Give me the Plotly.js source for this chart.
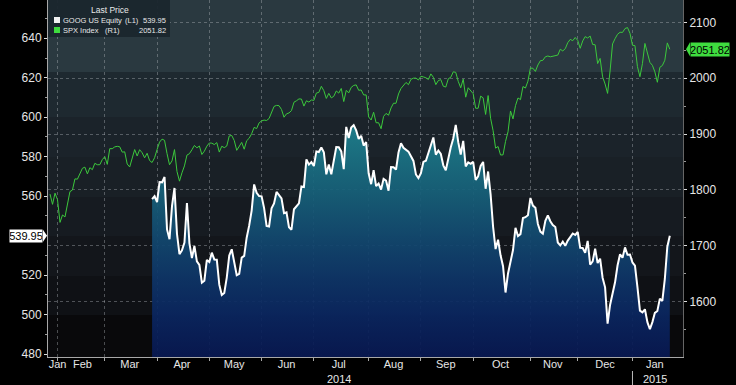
<!DOCTYPE html>
<html><head><meta charset="utf-8">
<script src="https://cdn.plot.ly/plotly-3.0.1.min.js"></script>
<style>html,body{margin:0;padding:0;background:#000;}#chart{width:736px;height:385px;}</style>
</head><body><div id="chart"></div>
<script>
// ---------- DATA ----------
const holidays = ['2014-02-17','2014-04-18','2014-05-26','2014-07-04','2014-09-01','2014-11-27','2014-12-25','2015-01-01','2015-01-19'];
const spxFirstDay = '2014-01-28';
const googFirstDay = '2014-03-27';
const lastDay = '2015-01-23';

const spxClose = [
  1792.50,1774.20,1794.19,1782.59,
  1741.89,1755.20,1751.64,1773.43,1797.02,1799.84,1819.75,1819.26,1829.83,1838.63,1840.76,1828.75,1839.78,1836.25,1847.61,1845.12,1845.16,1854.29,1859.45,
  1845.73,1873.91,1873.81,1877.03,1878.04,1877.17,1867.63,1868.20,1846.34,1841.13,1858.83,1872.25,1860.77,1872.01,1866.52,1857.44,1865.62,1852.56,1849.04,1857.62,1872.34,
  1885.52,1890.90,1888.77,1865.09,1845.04,1851.96,1872.18,1833.08,1815.69,1830.61,1842.98,1862.31,1864.85,1871.89,1879.55,1875.39,1878.61,1863.40,1869.43,1878.33,1883.95,
  1883.68,1881.14,1884.66,1867.72,1878.21,1875.63,1878.48,1896.65,1897.45,1888.53,1870.85,1877.86,1885.08,1872.83,1888.03,1892.49,1900.53,1911.91,1909.78,1920.03,1923.57,
  1924.97,1924.24,1927.88,1940.46,1949.44,1951.27,1950.79,1943.89,1930.11,1936.16,1937.78,1941.99,1956.98,1959.48,1962.87,1962.61,1949.98,1959.53,1957.22,1960.96,1960.23,
  1973.32,1974.62,1985.44,1977.65,1963.71,1972.83,1964.68,1967.57,1977.10,1973.28,1981.57,1958.12,1978.22,1973.63,1983.53,1987.01,1987.98,1978.34,1978.91,1969.95,1970.07,1930.67,
  1925.15,1938.99,1920.21,1920.24,1909.57,1931.59,1936.92,1933.75,1946.72,1955.18,1955.06,1971.74,1981.60,1986.51,1992.37,1988.40,1997.92,2000.02,2000.12,1996.74,2003.37,
  2002.28,2000.72,1997.65,2007.71,2001.54,1988.44,1995.69,1997.45,1985.54,1984.13,1998.98,2001.57,2011.36,2010.40,1994.29,1982.77,1998.30,1965.99,1982.85,1977.80,1972.29,
  1946.16,1946.17,1967.90,1964.82,1935.10,1968.89,1928.21,1906.13,1874.74,1877.70,1862.49,1862.76,1886.76,1904.01,1941.28,1927.11,1950.82,1964.58,1961.63,1985.05,1982.30,1994.65,2018.05,
  2017.81,2012.10,2023.57,2031.21,2031.92,2038.26,2039.68,2038.25,2039.33,2039.82,2041.32,2051.80,2048.72,2052.75,2063.50,2069.41,2067.03,2072.83,2067.56,
  2053.44,2066.55,2074.33,2071.92,2075.37,2060.31,2059.82,2026.14,2035.33,2002.33,1989.63,1972.74,2012.89,2061.23,2070.65,2078.54,2082.17,2081.88,2088.77,2090.57,2080.35,2058.90,
  2058.20,2020.58,2002.61,2025.90,2062.14,2044.81,2028.26,2023.03,2011.27,1992.67,2019.42,2022.55,2032.12,2063.15,2051.82
];

const googClose = [
  558.46,559.99,556.97,
  567.16,567.00,569.74,543.14,538.15,554.90,564.14,540.95,530.60,532.52,536.44,556.54,536.10,528.62,534.81,526.94,525.16,516.18,517.15,527.70,526.66,
  531.35,527.93,527.81,515.14,509.96,511.00,518.73,529.92,533.09,526.65,519.98,520.63,528.86,529.77,538.94,545.06,552.70,565.95,561.68,560.08,559.89,
  553.93,544.94,544.66,553.90,556.33,562.12,560.55,558.84,551.35,551.76,544.28,543.01,553.37,554.90,556.36,564.95,564.62,578.65,576.00,577.24,575.28,
  582.67,582.34,584.73,582.25,571.09,576.08,571.10,579.18,584.87,584.78,582.66,573.73,595.08,589.47,594.74,595.98,593.35,589.02,590.60,585.61,587.42,571.60,
  566.07,573.15,565.07,566.37,563.36,568.77,567.88,562.73,574.78,574.65,573.48,582.16,586.86,584.49,583.37,582.56,580.20,577.86,571.00,569.20,571.60,
  577.33,577.94,581.98,586.08,589.72,581.01,583.10,581.35,575.62,573.10,579.95,584.77,589.27,596.08,587.37,581.13,587.99,575.06,577.10,576.36,577.36,
  568.27,570.08,575.28,577.35,563.74,572.50,560.88,544.49,533.21,537.94,530.03,524.51,511.17,520.84,526.54,532.71,543.98,539.78,540.77,548.90,549.33,550.31,559.08,
  555.22,554.11,545.92,542.04,541.01,547.49,550.29,547.31,545.38,544.40,536.51,535.03,536.99,534.83,537.50,539.27,541.08,540.37,541.83,
  533.80,533.75,531.32,537.31,525.26,526.98,533.37,526.06,528.34,518.66,513.80,495.39,504.89,511.10,516.35,524.87,530.59,528.77,534.03,530.33,530.42,526.40,
  524.81,513.87,501.96,501.10,502.68,496.17,492.55,496.18,500.87,501.79,508.08,506.90,518.04,534.39,539.95
];

const monthGridDates = ['2014-01-31','2014-02-28','2014-03-31','2014-04-30','2014-05-30','2014-06-30','2014-07-31','2014-08-29','2014-09-30','2014-10-31','2014-11-28','2014-12-31'];
const monthLabelDates = ['2014-01-31','2014-02-14','2014-03-14','2014-04-14','2014-05-14','2014-06-13','2014-07-15','2014-08-14','2014-09-15','2014-10-15','2014-11-13','2014-12-15','2015-01-14'];
const monthLabels = ['Jan','Feb','Mar','Apr','May','Jun','Jul','Aug','Sep','Oct','Nov','Dec','Jan'];
const yearLabels = ['2014', '2015'];
const yearLabelDates = ['2014-07-15', '2015-01-14'];
const yearBoundaryDate = '2014-12-31';
const leftTicks = [480, 500, 520, 540, 560, 580, 600, 620, 640];
const rightTicks = [1600, 1700, 1800, 1900, 2000, 2100];

const googName = 'GOOG US Equity', googCode = '(L1)';
const spxName = 'SPX Index', spxCode = '(R1)';
const legendTitle = 'Last Price';

// ---------- HELPERS ----------
function tradingDays(start, end) {
  const out = [];
  let d = new Date(start + 'T00:00:00Z');
  const e = new Date(end + 'T00:00:00Z');
  while (d <= e) {
    const s = d.toISOString().slice(0, 10);
    const wd = d.getUTCDay();
    if (wd !== 0 && wd !== 6 && !holidays.includes(s)) out.push(s);
    d = new Date(d.getTime() + 86400000);
  }
  return out;
}
const spxDates = tradingDays(spxFirstDay, lastDay);
const googDates = tradingDays(googFirstDay, lastDay);

// layout geometry (pixels)
const W = 736, H = 385, ML = 48, MR = 53, MT = 0, MB = 28;
const PW = W - ML - MR, PH = H - MT - MB;
const px = v => (v - ML) / PW;
const py = v => 1 - (v - MT) / PH;

const FONT = "'Liberation Sans Narrow','Liberation Sans','DejaVu Sans Condensed',sans-serif";
const gridCol = 'rgba(185,190,195,0.38)';
const axisCol = '#a8a8a8';
const spxGreen = '#3cc83c';
const tagGreen = '#3fdc3f';

const lastGoog = googClose[googClose.length - 1];
const lastSpx = spxClose[spxClose.length - 1];
// the last-price tag hides the tick label it sits on
const leftTickShown = leftTicks.filter(v => Math.abs(v - lastGoog) > 6);

const rb = [{bounds: ['sat', 'mon']}, {values: holidays}];
const xRange = ['2014-01-27 04:19', '2015-01-30 07:12'];

// ---------- TRACES ----------
const traces = [
  {
    type: 'scatter', mode: 'lines', x: googDates, y: googClose, xaxis: 'x', yaxis: 'y',
    line: {color: '#ffffff', width: 2},
    fill: 'tozeroy',
    fillgradient: {
      type: 'vertical', start: 478, stop: 600,
      colorscale: [
        [0, 'rgba(8,24,82,0.93)'],
        [0.18, 'rgba(10,38,96,0.93)'],
        [0.34, 'rgba(14,54,104,0.93)'],
        [0.51, 'rgba(18,74,112,0.93)'],
        [0.67, 'rgba(22,94,120,0.93)'],
        [0.84, 'rgba(26,114,132,0.93)'],
        [1, 'rgba(31,134,146,0.93)']
      ]
    },
    name: googName, showlegend: false, hoverinfo: 'skip'
  },
  {
    type: 'scatter', mode: 'lines', x: spxDates, y: spxClose, xaxis: 'x', yaxis: 'y2',
    line: {color: spxGreen, width: 1},
    name: spxName, showlegend: false, hoverinfo: 'skip'
  },
  {
    // carrier for the month-label axis (draws nothing)
    type: 'scatter', mode: 'markers', x: monthLabelDates, y: monthLabelDates.map(() => null),
    xaxis: 'x2', yaxis: 'y', marker: {opacity: 0}, showlegend: false, hoverinfo: 'skip'
  }
];

// ---------- SHAPES ----------
const bandEdges = [0, 72, 117, 157, 197, 236, 276, 315, PH];
const bandColors = ['#2a3940', '#1e2930', '#1b232a', '#192026', '#161b21', '#13161b', '#0f1115', '#09090b'];
const shapes = [];
for (let i = 0; i < bandColors.length; i++) {
  shapes.push({type: 'rect', xref: 'paper', yref: 'paper', layer: 'below',
    x0: 0, x1: 1, y0: py(bandEdges[i + 1]), y1: py(bandEdges[i]),
    fillcolor: bandColors[i], line: {width: 0}});
}
// legend box
shapes.push({type: 'rect', xref: 'paper', yref: 'paper', layer: 'above',
  x0: 0, x1: px(170), y0: py(37), y1: 1, fillcolor: 'rgba(26,38,45,0.95)', line: {width: 0}});
shapes.push({type: 'rect', xref: 'paper', yref: 'paper', layer: 'above',
  x0: px(54), x1: px(60), y0: py(23), y1: py(17), fillcolor: '#f2f2f2', line: {width: 0}});
shapes.push({type: 'rect', xref: 'paper', yref: 'paper', layer: 'above',
  x0: px(54), x1: px(60), y0: py(33), y1: py(27), fillcolor: tagGreen, line: {width: 0}});
// year separator
shapes.push({type: 'line', xref: 'x', yref: 'paper', x0: yearBoundaryDate, x1: yearBoundaryDate,
  y0: py(371), y1: py(386), line: {color: '#bbbbbb', width: 1}});
// price-tag pointers
shapes.push({type: 'path', xref: 'paper', yref: 'y', xsizemode: 'pixel', ysizemode: 'pixel',
  xanchor: px(43), yanchor: lastGoog, path: 'M0,-6 L4,0 L0,6 Z',
  fillcolor: '#ffffff', line: {width: 0}});
shapes.push({type: 'path', xref: 'paper', yref: 'y2', xsizemode: 'pixel', ysizemode: 'pixel',
  xanchor: px(690), yanchor: lastSpx, path: 'M0,-7 L-4,0 L0,7 Z',
  fillcolor: tagGreen, line: {width: 0}});

// ---------- ANNOTATIONS ----------
const legFont = {family: FONT, size: 7.5, color: '#e8e8e8'};
const tickFont = {family: FONT, size: 12, color: '#e6e6e6'};
const xTickFont = {family: FONT, size: 11, color: '#e6e6e6'};
const annotations = [
  {xref: 'paper', yref: 'paper', x: px(110), y: py(10), text: legendTitle, showarrow: false,
    xanchor: 'center', yanchor: 'middle', font: {family: FONT, size: 8.5, color: '#e8e8e8'}},
  {xref: 'paper', yref: 'paper', x: px(61), y: py(20), text: googName, showarrow: false,
    xanchor: 'left', yanchor: 'middle', font: legFont},
  {xref: 'paper', yref: 'paper', x: px(123), y: py(20), text: googCode, showarrow: false,
    xanchor: 'left', yanchor: 'middle', font: legFont},
  {xref: 'paper', yref: 'paper', x: px(168), y: py(20), text: lastGoog.toFixed(2), showarrow: false,
    xanchor: 'right', yanchor: 'middle', font: legFont},
  {xref: 'paper', yref: 'paper', x: px(61), y: py(30), text: spxName, showarrow: false,
    xanchor: 'left', yanchor: 'middle', font: legFont},
  {xref: 'paper', yref: 'paper', x: px(103), y: py(30), text: spxCode, showarrow: false,
    xanchor: 'left', yanchor: 'middle', font: legFont},
  {xref: 'paper', yref: 'paper', x: px(168), y: py(30), text: lastSpx.toFixed(2), showarrow: false,
    xanchor: 'right', yanchor: 'middle', font: legFont},
  {xref: 'paper', yref: 'y', x: px(43), y: lastGoog, text: lastGoog.toFixed(2), showarrow: false,
    xanchor: 'right', yanchor: 'middle', bgcolor: '#ffffff', borderpad: 0, width: 32, height: 12,
    font: {family: FONT, size: 11, color: '#000000'}},
  {xref: 'paper', yref: 'y2', x: px(690), y: lastSpx, text: lastSpx.toFixed(2), showarrow: false,
    xanchor: 'left', yanchor: 'middle', bgcolor: tagGreen, borderpad: 0, width: 38, height: 13,
    font: {family: FONT, size: 11, color: '#000000'}}
];
yearLabels.forEach((t, i) => annotations.push({
  xref: 'x', yref: 'paper', x: yearLabelDates[i], y: py(379), text: t, showarrow: false,
  xanchor: 'center', yanchor: 'middle', font: xTickFont, borderpad: 0, height: 12
}));

// ---------- LAYOUT ----------
const layout = {
  width: W, height: H,
  margin: {l: ML, r: MR, t: MT, b: MB, pad: 0},
  paper_bgcolor: '#000000', plot_bgcolor: '#000000',
  showlegend: false,
  xaxis: {
    type: 'date', range: xRange, rangebreaks: rb,
    tickmode: 'array', tickvals: monthGridDates, showticklabels: false,
    ticks: 'outside', ticklen: 3, tickcolor: axisCol,
    showgrid: true, gridcolor: gridCol, griddash: 'dot', gridwidth: 1,
    showline: true, linecolor: axisCol, linewidth: 1, zeroline: false
  },
  xaxis2: {
    type: 'date', range: xRange, rangebreaks: rb, overlaying: 'x', anchor: 'y', side: 'bottom',
    tickmode: 'array', tickvals: monthLabelDates, ticktext: monthLabels,
    ticks: '', ticklabelstandoff: -1, showgrid: false, showline: false, zeroline: false, tickfont: xTickFont
  },
  yaxis: {
    range: [478.5, 659.4], tickmode: 'array', tickvals: leftTickShown,
    ticks: 'outside', ticklen: 3, tickcolor: '#dddddd', tickfont: tickFont,
    minor: {dtick: 10, tick0: 480, ticks: 'outside', ticklen: 2, tickcolor: '#999999', showgrid: false},
    showgrid: false, showline: true, linecolor: axisCol, zeroline: false
  },
  yaxis2: {
    range: [1501, 2139.9], overlaying: 'y', side: 'right', tickmode: 'array', tickvals: rightTicks,
    ticks: 'outside', ticklen: 3, tickcolor: '#dddddd', tickfont: tickFont,
    minor: {dtick: 50, tick0: 1600, ticks: 'outside', ticklen: 2, tickcolor: '#999999', showgrid: false},
    showgrid: true, gridcolor: gridCol, griddash: 'dot', gridwidth: 1,
    showline: true, linecolor: 'rgba(170,170,170,0.6)', zeroline: false
  },
  shapes: shapes,
  annotations: annotations
};

Plotly.newPlot('chart', traces, layout, {displayModeBar: false, staticPlot: true});
</script>
</body></html>
